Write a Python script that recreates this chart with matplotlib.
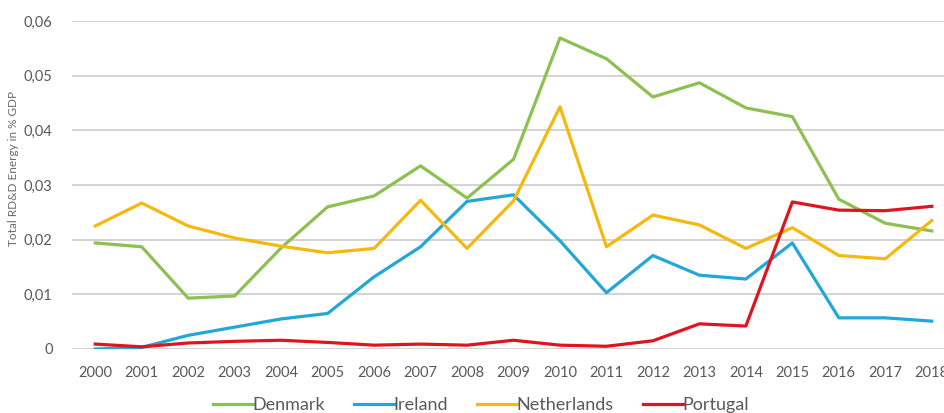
import matplotlib
matplotlib.use('Agg')
import matplotlib.pyplot as plt

years = [str(y) for y in range(2000, 2019)]

denmark = [0.0194, 0.0187, 0.0093, 0.0097, 0.0185, 0.0260, 0.0280, 0.0335, 0.0276, 0.0347,
           0.0569, 0.0531, 0.0461, 0.0487, 0.0441, 0.0425, 0.0274, 0.0230, 0.0216]
ireland = [0.0000, 0.0003, 0.0025, 0.0040, 0.0055, 0.0065, 0.0132, 0.0187, 0.0270, 0.0282,
           0.0198, 0.0103, 0.0171, 0.0135, 0.0128, 0.0194, 0.0057, 0.0057, 0.0051]
netherlands = [0.0225, 0.0267, 0.0225, 0.0203, 0.0188, 0.0176, 0.0184, 0.0272, 0.0184, 0.0271,
               0.0443, 0.0187, 0.0245, 0.0227, 0.0184, 0.0222, 0.0171, 0.0165, 0.0235]
portugal = [0.0009, 0.0004, 0.0011, 0.0014, 0.0016, 0.0012, 0.0007, 0.0009, 0.0007, 0.0016,
            0.0007, 0.0005, 0.0015, 0.0046, 0.0042, 0.0269, 0.0254, 0.0253, 0.0261]

series = [
    ('Denmark', denmark, '#8cc152'),
    ('Ireland', ireland, '#22a7d8'),
    ('Netherlands', netherlands, '#f5b80f'),
    ('Portugal', portugal, '#e0141e'),
]

plt.rcParams['font.family'] = ['Lato', 'DejaVu Sans']

fig = plt.figure(figsize=(9.45, 4.13), dpi=100)
ax = fig.add_axes([72 / 945, 64 / 413, 883 / 945, 328 / 413])

x = list(range(len(years)))
for name, vals, col in series:
    ax.plot(x, vals, color=col, lw=2.3, label=name, solid_joinstyle='round')

ax.set_xlim(-0.5, len(years) - 0.5)
ax.set_ylim(0, 0.06)
ax.set_xticks(x)
ax.set_xticklabels(years)
yt = [0, 0.01, 0.02, 0.03, 0.04, 0.05, 0.06]
ax.set_yticks(yt)
ax.set_yticklabels(['0'] + [('%.2f' % v).replace('.', ',') for v in yt[1:]])
ax.tick_params(length=0, labelsize=10.5, labelcolor='#595959', pad=12)
ax.tick_params(axis='y', pad=14)

ax.grid(axis='y', color='#d0d0d0', lw=1.3)
ax.set_axisbelow(True)
for s in ax.spines.values():
    s.set_visible(False)

ax.set_ylabel('Total RD&D Energy in % GDP', fontsize=8.5, color='#6a6a6a')
ax.yaxis.set_label_coords(-53 / 883, 0.55)

fig.legend(loc='center', bbox_to_anchor=(481 / 945, 1 - 405 / 413), ncol=4, frameon=False,
           fontsize=13, handlelength=2.2, handletextpad=0.0, columnspacing=1.6,
           labelcolor='#595959')

fig.savefig('out.png', dpi=100)
